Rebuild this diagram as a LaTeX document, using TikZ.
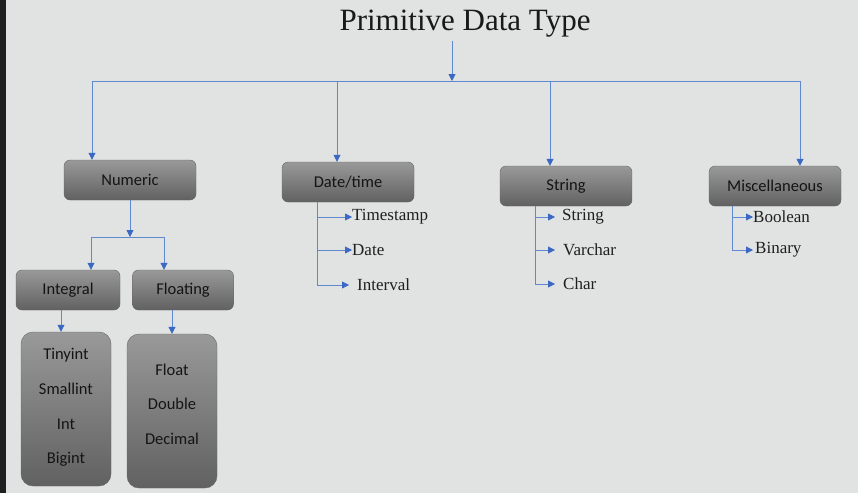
\documentclass[tikz,border=0pt]{standalone}
\usepackage{fontspec}
\setmainfont{Liberation Serif}
\newfontfamily\boxfont{Carlito}
\usetikzlibrary{arrows.meta}
\definecolor{bggray}{HTML}{E1E2E2}
\definecolor{edgedark}{HTML}{1E1F21}
\definecolor{linkblue}{HTML}{6088D0}
\definecolor{tipblue}{HTML}{3A68C2}

\begin{document}
\begin{tikzpicture}[x=1pt,y=-1pt,
  typebox/.style={draw=black!60, rounded corners=6pt, top color=black!40, bottom color=black!62,
    text=black!92, font=\boxfont\fontsize{16.5}{19}\selectfont,
    minimum width=132pt, minimum height=40pt, inner sep=2pt},
  subbox/.style={typebox, minimum width=104pt},
  listbox/.style={typebox, rounded corners=12pt, minimum width=90pt, minimum height=154pt,
    align=center, font=\boxfont\fontsize{16.5}{34.7}\selectfont},
  item/.style={anchor=west, inner sep=0pt, font=\fontsize{17}{20}\selectfont, text=black!88},
  link/.style={draw=linkblue, line width=0.8pt, -{Triangle[length=7pt,width=7pt,color=tipblue]}}]
  \fill[bggray] (0,0) rectangle (858,493);
  \fill[edgedark] (0,0) rectangle (6,493);
  \useasboundingbox (0,0) rectangle (858,493);

  \node[font=\fontsize{31}{36}\selectfont, text=black!90] (title) at (465,24) {Primitive Data Type};
  \coordinate (hub) at (452,81);

  \node[typebox] (numeric) at (130,180) {Numeric};
  \node[typebox] (datetime) at (348,182) {Date/time};
  \node[typebox] (string) at (566,186) {String};
  \node[typebox] (misc) at (775,186) {Miscellaneous};

  \coordinate (numhub) at (130,237);
  \node[subbox] (integral) at (68,290) {Integral};
  \node[subbox, minimum width=101pt] (floating) at (183,290) {Floating};
  \node[listbox, text depth=6pt] (intlist) at (66,409) {Tinyint\\Smallint\\Int\\Bigint};
  \node[listbox, text depth=14pt] (floatlist) at (172,411) {Float\\Double\\Decimal};

  \node[item] (timestamp) at (352,217) {Timestamp};
  \node[item] (date) at (352,250) {Date};
  \node[item] (interval) at (357,285) {Interval};
  \node[item] (strtype) at (562,217) {String};
  \node[item] (varchar) at (563,250) {Varchar};
  \node[item] (chartype) at (563,284) {Char};
  \node[item] (boolean) at (753,217) {Boolean};
  \node[item] (binary) at (755,250) {Binary};

  \draw[link] (title.south -| hub) -- (hub);
  \draw[link] (hub) -| ([xshift=-38pt]numeric.north);
  \draw[link] (hub) -| ([xshift=-11pt]datetime.north);
  \draw[link] (hub) -| ([xshift=-16pt]string.north);
  \draw[link] (hub) -| ([xshift=25pt]misc.north);

  \draw[link] (numeric) -- (numhub);
  \draw[link] (numhub) -| ([xshift=23pt]integral.north);
  \draw[link] (numhub) -| ([xshift=-19pt]floating.north);
  \draw[link] ([xshift=-7pt]integral.south) -- ([xshift=-5pt]intlist.north);
  \draw[link] ([xshift=-11pt]floating.south) -- (floatlist.north);

  \draw[link] ([xshift=36pt]datetime.south west) |- (timestamp.west);
  \draw[link] ([xshift=36pt]datetime.south west) |- (date.west);
  \draw[link] ([xshift=36pt]datetime.south west) |- ([xshift=-8pt]interval.west);
  \draw[link] ([xshift=36pt]string.south west) |- ([xshift=-7pt]strtype.west);
  \draw[link] ([xshift=36pt]string.south west) |- ([xshift=-8pt]varchar.west);
  \draw[link] ([xshift=36pt]string.south west) |- ([xshift=-8pt]chartype.west);
  \draw[link] ([xshift=24pt]misc.south west) |- (boolean.west);
  \draw[link] ([xshift=24pt]misc.south west) |- ([xshift=-2pt]binary.west);
\end{tikzpicture}
\end{document}
